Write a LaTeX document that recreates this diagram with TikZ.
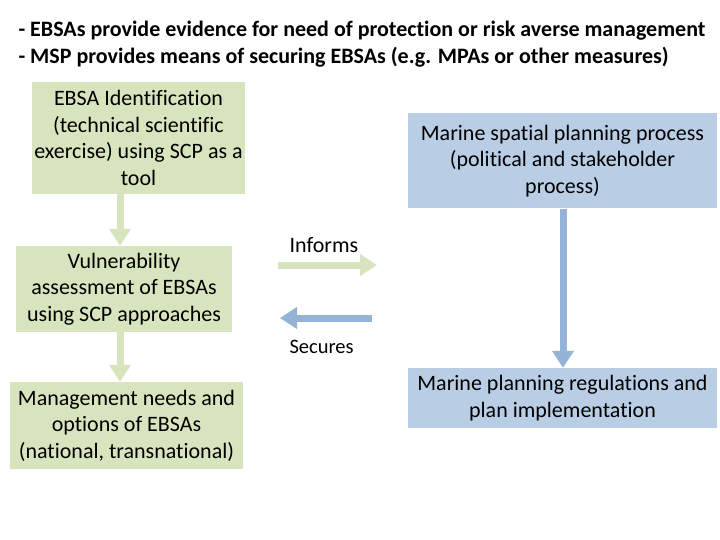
\documentclass[tikz,border=0pt]{standalone}
\usepackage{fontspec}
\setmainfont{Carlito}[Ligatures=NoCommon]
\usepackage{tikz}
\usetikzlibrary{positioning, arrows.meta}

\definecolor{ebsagreen}{HTML}{D7E4BD}
\definecolor{mspblue}{HTML}{B9CDE5}
\definecolor{arrowblue}{HTML}{95B3D7}

\begin{document}
\begin{tikzpicture}[
            x=1pt, y=-1pt,
            every node/.style={
                font=\fontsize{22}{26.5}\selectfont,
                align=center
            },
            ebsabox/.style={
                rectangle,
                fill=ebsagreen,
                inner sep=2pt
            },
            mspbox/.style={
                rectangle,
                fill=mspblue,
                inner sep=2pt
            },
            greenarrow/.style={
                -{Triangle[width=21pt,length=17pt]},
                draw=ebsagreen,
                line width=7pt
            },
            bluearrow/.style={
                -{Triangle[width=21pt,length=17pt]},
                draw=arrowblue,
                line width=7pt
            }
        ]
            \useasboundingbox (0,0) rectangle (720,540);

            % heading
            \node [anchor=west, align=left, font=\fontsize{22}{27}\selectfont\bfseries] (title) at (15,44)
                {- EBSAs provide evidence for need of protection or risk averse management\\
                 - MSP provides means of securing EBSAs (e.g. MPAs or other measures)};

            % left column: EBSA process
            \node [ebsabox, minimum width=209pt, minimum height=112pt] (ident) at (138.5,138)
                {EBSA Identification\\(technical scientific\\exercise) using SCP as a\\tool};
            \node [ebsabox, minimum width=216pt, minimum height=86pt] (vuln) at (124,289)
                {Vulnerability\\assessment of EBSAs\\using SCP approaches};
            \node [ebsabox, minimum width=233pt, minimum height=87pt] (mgmt) at (126.5,425.5)
                {Management needs and\\options of EBSAs\\(national, transnational)};

            % right column: MSP process
            \node [mspbox, minimum width=309pt, minimum height=95pt] (msp) at (562.5,161)
                {Marine spatial planning process\\(political and stakeholder\\process)};
            \node [mspbox, minimum width=309pt, minimum height=60pt] (regs) at (562.5,398)
                {Marine planning regulations and\\plan implementation};

            \coordinate (left) at (120,0);
            \coordinate (right) at (563,0);

            \draw [greenarrow] (ident.south -| left) -- (vuln.north -| left);
            \draw [greenarrow] (vuln.south -| left) -- (mgmt.north -| left);
            \draw [bluearrow] (msp.south -| right) -- (regs.north -| right);

            % informs / secures
            \coordinate (inf1) at (278,265);
            \coordinate (inf2) at (377,265);
            \coordinate (sec1) at (372,318);
            \coordinate (sec2) at (280,318);

            \draw [greenarrow] (inf1) -- (inf2);
            \draw [bluearrow] (sec1) -- (sec2);

            \node [anchor=west] (informs) at (286,245) {Informs};
            \node [anchor=west, font=\fontsize{20.5}{24}\selectfont] (secures) at (286,347) {Secures};

        \end{tikzpicture}
\end{document}
